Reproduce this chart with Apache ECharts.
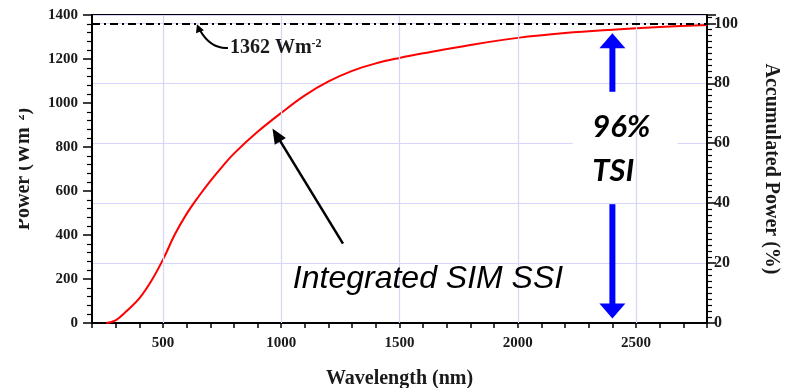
<!DOCTYPE html>
<html>
<head>
<meta charset="utf-8">
<script src="https://cdn.jsdelivr.net/npm/echarts@6/dist/echarts.min.js"></script>
<style>
  html, body { margin: 0; padding: 0; background: #fff; }
  #main { width: 788px; height: 388px; }
</style>
</head>
<body>
<div id="main"></div>
<script>
// wavelength (nm) and integrated power (W m-2)
var wavelength = [260, 300, 350, 400, 450, 500, 550, 600, 650, 700, 750, 800, 900, 1000, 1100, 1200, 1300, 1400, 1500, 1600, 1800, 2000, 2200, 2400, 2600, 2800];
var power = [0, 12, 58, 112, 190, 288, 402, 496, 574, 645, 710, 770, 869, 955, 1035, 1098, 1146, 1180, 1205, 1226, 1264, 1296, 1318, 1333, 1345, 1355];
var tsi = 1362;
var gridLinesX = [500, 1000, 1500, 2000, 2500];

var serif = 'Liberation Serif';
var gridColor = '#d6d6fa';

var chartDom = document.getElementById('main');
var myChart = echarts.init(chartDom);

var option = {
    animation: false,
    backgroundColor: '#fff',
    grid: {
        left: 92, right: 81, top: 15, bottom: 65,
        outerBoundsMode: 'none',
        containLabel: false,
        show: true, borderColor: '#000', borderWidth: 2
    },
    xAxis: {
        type: 'value',
        min: 200, max: 2800, interval: 100,
        name: 'Wavelength (nm)',
        nameLocation: 'middle',
        nameGap: 46,
        nameTextStyle: { fontFamily: serif, fontWeight: 'bold', fontSize: 20, color: '#1a1a1a' },
        axisLine: { lineStyle: { color: '#000', width: 2 } },
        axisTick: { length: 5, lineStyle: { color: '#000', width: 1.5 } },
        axisLabel: {
            margin: 13,
            fontFamily: serif, fontWeight: 'bold', fontSize: 15, color: '#1a1a1a',
            formatter: function (v) { return v % 500 === 0 ? String(v) : ''; }
        },
        splitLine: { show: false }
    },
    yAxis: [
        {
            type: 'value',
            min: 0, max: 1400, interval: 200,
            name: 'Power (Wm\u207B\u00B2)',
            nameLocation: 'middle',
            nameGap: 58,
            nameTextStyle: { fontFamily: serif, fontWeight: 'bold', fontSize: 20, color: '#1a1a1a' },
            axisLine: { show: true, lineStyle: { color: '#000', width: 2 } },
            axisTick: { show: true, length: 9, lineStyle: { color: '#000', width: 1.5 } },
            minorTick: { show: true, splitNumber: 5, length: 5, lineStyle: { color: '#000', width: 1.2 } },
            axisLabel: {
                margin: 14, fontFamily: serif, fontWeight: 'bold', fontSize: 15, color: '#1a1a1a',
                formatter: function (v) { return String(v); }
            },
            splitLine: { show: false }
        },
        {
            type: 'value',
            min: 0, max: 100 * 1400 / tsi, interval: 20,
            position: 'right',
            name: 'Accumulated Power (%)',
            nameLocation: 'middle',
            nameGap: 54,
            nameRotate: -90,
            nameTextStyle: { fontFamily: serif, fontWeight: 'bold', fontSize: 20, color: '#1a1a1a' },
            axisLine: { show: true, lineStyle: { color: '#000', width: 2 } },
            axisTick: { show: true, length: 9, lineStyle: { color: '#000', width: 1.5 } },
            minorTick: { show: true, splitNumber: 10, length: 5, lineStyle: { color: '#000', width: 1.2 } },
            axisLabel: {
                margin: 7, showMaxLabel: false, fontFamily: serif, fontWeight: 'bold', fontSize: 16, color: '#1a1a1a',
                formatter: function (v) { return String(v); }
            },
            splitLine: { show: true, lineStyle: { color: gridColor, width: 1.2 } }
        }
    ],
    series: [
        {
            // vertical grid lines only at the labelled wavelengths
            type: 'line',
            data: [],
            z: 0,
            silent: true,
            markLine: {
                silent: true,
                symbol: 'none',
                label: { show: false },
                lineStyle: { color: gridColor, width: 1.2, type: 'solid' },
                data: gridLinesX.map(function (v) { return { xAxis: v }; })
            }
        },
        {
            name: 'Integrated SIM SSI',
            type: 'line',
            smooth: 0.4,
            showSymbol: false,
            z: 3,
            data: wavelength.map(function (w, i) { return [w, power[i]]; }),
            lineStyle: { color: '#ff0000', width: 2 },
            itemStyle: { color: '#ff0000' },
            markLine: {
                silent: true,
                symbol: 'none',
                label: { show: false },
                lineStyle: { color: '#000', width: 2, type: [8, 4, 2, 4] },
                data: [{ yAxis: tsi }]
            }
        }
    ]
};

myChart.setOption(option);

function px(x, y) {
    return myChart.convertToPixel({ gridIndex: 0 }, [x, y]);
}

// straight arrow: shaft + triangular head
function arrow(from, to, headLen, headW, lineW, color) {
    var dx = to[0] - from[0], dy = to[1] - from[1];
    var len = Math.sqrt(dx * dx + dy * dy);
    var ux = dx / len, uy = dy / len;
    var bx = to[0] - ux * headLen, by = to[1] - uy * headLen;
    var nx = -uy * headW / 2, ny = ux * headW / 2;
    return [
        {
            type: 'line', z: 6, silent: true,
            shape: { x1: from[0], y1: from[1], x2: bx + ux, y2: by + uy },
            style: { stroke: color, lineWidth: lineW }
        },
        {
            type: 'polygon', z: 6, silent: true,
            shape: { points: [[to[0], to[1]], [bx + nx, by + ny], [bx - nx, by - ny]] },
            style: { fill: color }
        }
    ];
}

var boxA = px(2232, 1040), boxB = px(2676, 545);
var tip1362 = px(648, tsi);
var label1362 = px(783, 1250);

var elements = [
    {
        type: 'rect', z: 1, silent: true,
        shape: { x: boxA[0], y: boxA[1], width: boxB[0] - boxA[0], height: boxB[1] - boxA[1] },
        style: { fill: '#fff' }
    },
    {
        // the source picture is cropped through the left axis title
        type: 'rect', z: 20, silent: true,
        shape: { x: 0, y: 0, width: 19, height: 388 },
        style: { fill: '#fff' }
    },
    {
        type: 'text', z: 7, silent: true,
        style: {
            x: label1362[0], y: label1362[1],
            text: '{a|1362 Wm}{s|-2}',
            textVerticalAlign: 'middle',
            rich: {
                a: { fontFamily: serif, fontWeight: 'bold', fontSize: 20, fill: '#1a1a1a' },
                s: { fontFamily: serif, fontWeight: 'bold', fontSize: 12, fill: '#1a1a1a', verticalAlign: 'top' }
            }
        }
    },
    {
        type: 'bezierCurve', z: 6, silent: true,
        shape: {
            x1: label1362[0] - 2, y1: label1362[1],
            cpx1: label1362[0] - 18, cpy1: label1362[1] + 1,
            cpx2: tip1362[0] + 6, cpy2: tip1362[1] + 14,
            x2: tip1362[0] + 2, y2: tip1362[1] + 7
        },
        style: { stroke: '#000', lineWidth: 2, fill: null }
    },
    {
        type: 'polygon', z: 6, silent: true,
        shape: { points: [[tip1362[0] - 1, tip1362[1] + 1], [tip1362[0] - 2, tip1362[1] + 10], [tip1362[0] + 6, tip1362[1] + 7]] },
        style: { fill: '#000' }
    },
    {
        type: 'text', z: 7, silent: true,
        style: {
            x: px(1049, 0)[0], y: px(0, 199)[1],
            text: 'Integrated SIM SSI',
            textVerticalAlign: 'middle',
            font: 'italic 32px "Liberation Sans", Arial, sans-serif',
            fill: '#000'
        }
    },
    {
        type: 'text', z: 7, silent: true,
        style: {
            x: px(2315, 0)[0], y: px(0, 890)[1],
            text: '96%',
            textVerticalAlign: 'middle',
            font: 'italic bold 31px Lato, "Liberation Sans", sans-serif',
            fill: '#000'
        }
    },
    {
        type: 'text', z: 7, silent: true,
        style: {
            x: px(2315, 0)[0], y: px(0, 690)[1],
            text: 'TSI',
            textVerticalAlign: 'middle',
            font: 'italic bold 31px Lato, "Liberation Sans", sans-serif',
            fill: '#000'
        }
    }
];

elements = elements
    .concat(arrow(px(1261, 361), px(963, 884), 15, 13, 2.5, '#000'))
    .concat(arrow(px(2400, 1051), px(2400, 1317), 15, 26, 6, '#0000ff'))
    .concat(arrow(px(2400, 540), px(2400, 20), 15, 26, 6, '#0000ff'));

myChart.setOption({ graphic: { elements: elements } });

window.addEventListener('resize', myChart.resize);
</script>
</body>
</html>
